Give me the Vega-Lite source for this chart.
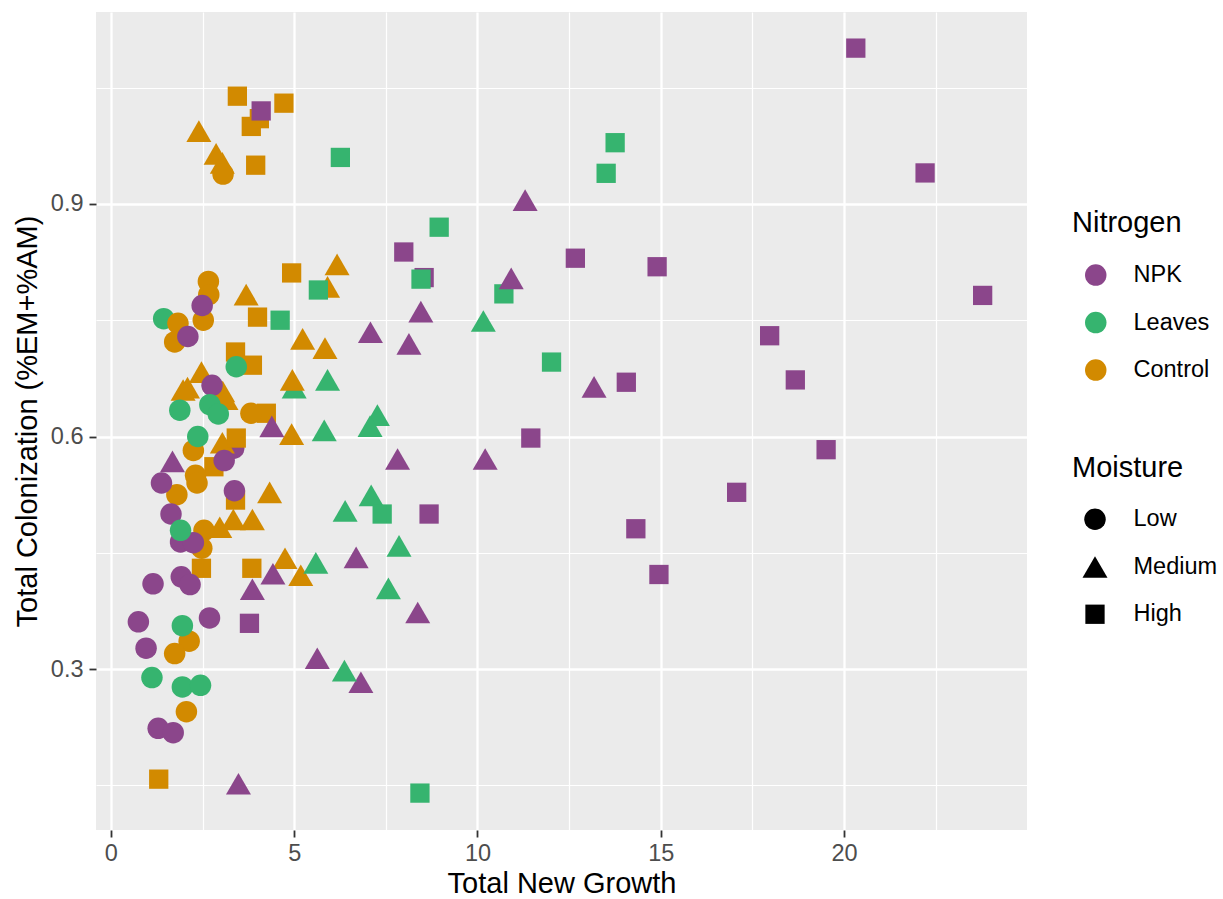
{
  "$schema": "https://vega.github.io/schema/vega-lite/v6.json",
  "width": 931,
  "height": 818,
  "autosize": "none",
  "padding": {"left": 96, "top": 12, "right": 196, "bottom": 69},
  "background": "white",
  "config": {
    "font": "Liberation Sans",
    "view": {"fill": "#EBEBEB", "stroke": null},
    "axis": {
      "domain": false,
      "gridColor": "white",
      "tickColor": "#333333",
      "tickWidth": 1.8,
      "tickSize": 7,
      "labelFontSize": 23.5,
      "labelColor": "#4D4D4D",
      "titleFontSize": 29,
      "titleFontWeight": "normal",
      "titleColor": "black"
    },
    "legend": {
      "titleFontSize": 29,
      "titleFontWeight": "normal",
      "titleColor": "black",
      "labelFontSize": 23.5,
      "labelColor": "black",
      "padding": 0,
      "symbolStrokeWidth": 0,
      "symbolBaseFillColor": "black"
    }
  },
  "data": {
    "values": [
      {"growth": 5.0, "colonization": 0.663, "Nitrogen": "Leaves", "Moisture": "Medium"},
      {"growth": 1.44, "colonization": 0.752, "Nitrogen": "Leaves", "Moisture": "Low"},
      {"growth": 3.35, "colonization": 0.585, "Nitrogen": "NPK", "Moisture": "Low"},
      {"growth": 10.72, "colonization": 0.784, "Nitrogen": "Leaves", "Moisture": "High"},

      {"growth": 2.40, "colonization": 0.994, "Nitrogen": "Control", "Moisture": "Medium"},
      {"growth": 2.87, "colonization": 0.9645, "Nitrogen": "Control", "Moisture": "Medium"},
      {"growth": 3.04, "colonization": 0.953, "Nitrogen": "Control", "Moisture": "Medium"},
      {"growth": 3.69, "colonization": 0.783, "Nitrogen": "Control", "Moisture": "Medium"},
      {"growth": 6.17, "colonization": 0.822, "Nitrogen": "Control", "Moisture": "Medium"},
      {"growth": 5.91, "colonization": 0.793, "Nitrogen": "Control", "Moisture": "Medium"},
      {"growth": 5.23, "colonization": 0.726, "Nitrogen": "Control", "Moisture": "Medium"},
      {"growth": 5.84, "colonization": 0.714, "Nitrogen": "Control", "Moisture": "Medium"},
      {"growth": 2.47, "colonization": 0.683, "Nitrogen": "Control", "Moisture": "Medium"},
      {"growth": 2.09, "colonization": 0.663, "Nitrogen": "Control", "Moisture": "Medium"},
      {"growth": 1.97, "colonization": 0.660, "Nitrogen": "Control", "Moisture": "Medium"},
      {"growth": 3.05, "colonization": 0.658, "Nitrogen": "Control", "Moisture": "Medium"},
      {"growth": 3.14, "colonization": 0.648, "Nitrogen": "Control", "Moisture": "Medium"},
      {"growth": 4.95, "colonization": 0.673, "Nitrogen": "Control", "Moisture": "Medium"},
      {"growth": 4.93, "colonization": 0.603, "Nitrogen": "Control", "Moisture": "Medium"},
      {"growth": 3.04, "colonization": 0.592, "Nitrogen": "Control", "Moisture": "Medium"},
      {"growth": 4.33, "colonization": 0.528, "Nitrogen": "Control", "Moisture": "Medium"},
      {"growth": 3.34, "colonization": 0.493, "Nitrogen": "Control", "Moisture": "Medium"},
      {"growth": 3.86, "colonization": 0.493, "Nitrogen": "Control", "Moisture": "Medium"},
      {"growth": 2.97, "colonization": 0.483, "Nitrogen": "Control", "Moisture": "Medium"},
      {"growth": 4.75, "colonization": 0.443, "Nitrogen": "Control", "Moisture": "Medium"},
      {"growth": 5.18, "colonization": 0.421, "Nitrogen": "Control", "Moisture": "Medium"},

      {"growth": 3.45, "colonization": 1.039, "Nitrogen": "Control", "Moisture": "High"},
      {"growth": 4.72, "colonization": 1.030, "Nitrogen": "Control", "Moisture": "High"},
      {"growth": 4.05, "colonization": 1.010, "Nitrogen": "Control", "Moisture": "High"},
      {"growth": 3.83, "colonization": 1.000, "Nitrogen": "Control", "Moisture": "High"},
      {"growth": 3.95, "colonization": 0.950, "Nitrogen": "Control", "Moisture": "High"},
      {"growth": 4.93, "colonization": 0.811, "Nitrogen": "Control", "Moisture": "High"},
      {"growth": 4.00, "colonization": 0.754, "Nitrogen": "Control", "Moisture": "High"},
      {"growth": 3.40, "colonization": 0.709, "Nitrogen": "Control", "Moisture": "High"},
      {"growth": 3.86, "colonization": 0.692, "Nitrogen": "Control", "Moisture": "High"},
      {"growth": 4.24, "colonization": 0.630, "Nitrogen": "Control", "Moisture": "High"},
      {"growth": 3.42, "colonization": 0.598, "Nitrogen": "Control", "Moisture": "High"},
      {"growth": 2.81, "colonization": 0.561, "Nitrogen": "Control", "Moisture": "High"},
      {"growth": 3.40, "colonization": 0.518, "Nitrogen": "Control", "Moisture": "High"},
      {"growth": 2.47, "colonization": 0.430, "Nitrogen": "Control", "Moisture": "High"},
      {"growth": 3.845, "colonization": 0.430, "Nitrogen": "Control", "Moisture": "High"},
      {"growth": 1.305, "colonization": 0.158, "Nitrogen": "Control", "Moisture": "High"},

      {"growth": 3.06, "colonization": 0.9385, "Nitrogen": "Control", "Moisture": "Low"},
      {"growth": 2.66, "colonization": 0.800, "Nitrogen": "Control", "Moisture": "Low"},
      {"growth": 2.67, "colonization": 0.783, "Nitrogen": "Control", "Moisture": "Low"},
      {"growth": 2.52, "colonization": 0.750, "Nitrogen": "Control", "Moisture": "Low"},
      {"growth": 1.83, "colonization": 0.746, "Nitrogen": "Control", "Moisture": "Low"},
      {"growth": 1.74, "colonization": 0.722, "Nitrogen": "Control", "Moisture": "Low"},
      {"growth": 3.82, "colonization": 0.630, "Nitrogen": "Control", "Moisture": "Low"},
      {"growth": 2.25, "colonization": 0.582, "Nitrogen": "Control", "Moisture": "Low"},
      {"growth": 2.31, "colonization": 0.550, "Nitrogen": "Control", "Moisture": "Low"},
      {"growth": 2.35, "colonization": 0.540, "Nitrogen": "Control", "Moisture": "Low"},
      {"growth": 1.80, "colonization": 0.525, "Nitrogen": "Control", "Moisture": "Low"},
      {"growth": 2.54, "colonization": 0.479, "Nitrogen": "Control", "Moisture": "Low"},
      {"growth": 2.48, "colonization": 0.456, "Nitrogen": "Control", "Moisture": "Low"},
      {"growth": 2.135, "colonization": 0.336, "Nitrogen": "Control", "Moisture": "Low"},
      {"growth": 1.74, "colonization": 0.320, "Nitrogen": "Control", "Moisture": "Low"},
      {"growth": 2.06, "colonization": 0.245, "Nitrogen": "Control", "Moisture": "Low"},

      {"growth": 2.49, "colonization": 0.769, "Nitrogen": "NPK", "Moisture": "Low"},
      {"growth": 2.10, "colonization": 0.729, "Nitrogen": "NPK", "Moisture": "Low"},
      {"growth": 2.76, "colonization": 0.666, "Nitrogen": "NPK", "Moisture": "Low"},
      {"growth": 3.09, "colonization": 0.569, "Nitrogen": "NPK", "Moisture": "Low"},
      {"growth": 1.38, "colonization": 0.540, "Nitrogen": "NPK", "Moisture": "Low"},
      {"growth": 3.37, "colonization": 0.530, "Nitrogen": "NPK", "Moisture": "Low"},
      {"growth": 1.64, "colonization": 0.500, "Nitrogen": "NPK", "Moisture": "Low"},
      {"growth": 1.90, "colonization": 0.464, "Nitrogen": "NPK", "Moisture": "Low"},
      {"growth": 2.25, "colonization": 0.463, "Nitrogen": "NPK", "Moisture": "Low"},
      {"growth": 1.15, "colonization": 0.410, "Nitrogen": "NPK", "Moisture": "Low"},
      {"growth": 1.92, "colonization": 0.419, "Nitrogen": "NPK", "Moisture": "Low"},
      {"growth": 2.16, "colonization": 0.409, "Nitrogen": "NPK", "Moisture": "Low"},
      {"growth": 0.75, "colonization": 0.361, "Nitrogen": "NPK", "Moisture": "Low"},
      {"growth": 2.69, "colonization": 0.366, "Nitrogen": "NPK", "Moisture": "Low"},
      {"growth": 0.96, "colonization": 0.327, "Nitrogen": "NPK", "Moisture": "Low"},
      {"growth": 1.29, "colonization": 0.2235, "Nitrogen": "NPK", "Moisture": "Low"},
      {"growth": 1.70, "colonization": 0.218, "Nitrogen": "NPK", "Moisture": "Low"},

      {"growth": 11.30, "colonization": 0.905, "Nitrogen": "NPK", "Moisture": "Medium"},
      {"growth": 10.92, "colonization": 0.804, "Nitrogen": "NPK", "Moisture": "Medium"},
      {"growth": 8.455, "colonization": 0.761, "Nitrogen": "NPK", "Moisture": "Medium"},
      {"growth": 7.08, "colonization": 0.7345, "Nitrogen": "NPK", "Moisture": "Medium"},
      {"growth": 8.13, "colonization": 0.7195, "Nitrogen": "NPK", "Moisture": "Medium"},
      {"growth": 13.18, "colonization": 0.664, "Nitrogen": "NPK", "Moisture": "Medium"},
      {"growth": 4.39, "colonization": 0.613, "Nitrogen": "NPK", "Moisture": "Medium"},
      {"growth": 1.68, "colonization": 0.568, "Nitrogen": "NPK", "Moisture": "Medium"},
      {"growth": 7.82, "colonization": 0.571, "Nitrogen": "NPK", "Moisture": "Medium"},
      {"growth": 10.21, "colonization": 0.571, "Nitrogen": "NPK", "Moisture": "Medium"},
      {"growth": 6.69, "colonization": 0.444, "Nitrogen": "NPK", "Moisture": "Medium"},
      {"growth": 4.42, "colonization": 0.423, "Nitrogen": "NPK", "Moisture": "Medium"},
      {"growth": 3.86, "colonization": 0.403, "Nitrogen": "NPK", "Moisture": "Medium"},
      {"growth": 8.37, "colonization": 0.373, "Nitrogen": "NPK", "Moisture": "Medium"},
      {"growth": 5.63, "colonization": 0.314, "Nitrogen": "NPK", "Moisture": "Medium"},
      {"growth": 6.82, "colonization": 0.283, "Nitrogen": "NPK", "Moisture": "Medium"},
      {"growth": 3.48, "colonization": 0.152, "Nitrogen": "NPK", "Moisture": "Medium"},

      {"growth": 20.32, "colonization": 1.101, "Nitrogen": "NPK", "Moisture": "High"},
      {"growth": 4.10, "colonization": 1.020, "Nitrogen": "NPK", "Moisture": "High"},
      {"growth": 22.21, "colonization": 0.940, "Nitrogen": "NPK", "Moisture": "High"},
      {"growth": 7.99, "colonization": 0.838, "Nitrogen": "NPK", "Moisture": "High"},
      {"growth": 8.545, "colonization": 0.805, "Nitrogen": "NPK", "Moisture": "High"},
      {"growth": 12.67, "colonization": 0.830, "Nitrogen": "NPK", "Moisture": "High"},
      {"growth": 14.90, "colonization": 0.819, "Nitrogen": "NPK", "Moisture": "High"},
      {"growth": 23.78, "colonization": 0.782, "Nitrogen": "NPK", "Moisture": "High"},
      {"growth": 17.97, "colonization": 0.730, "Nitrogen": "NPK", "Moisture": "High"},
      {"growth": 18.67, "colonization": 0.673, "Nitrogen": "NPK", "Moisture": "High"},
      {"growth": 14.06, "colonization": 0.670, "Nitrogen": "NPK", "Moisture": "High"},
      {"growth": 11.455, "colonization": 0.598, "Nitrogen": "NPK", "Moisture": "High"},
      {"growth": 19.51, "colonization": 0.583, "Nitrogen": "NPK", "Moisture": "High"},
      {"growth": 17.07, "colonization": 0.528, "Nitrogen": "NPK", "Moisture": "High"},
      {"growth": 8.68, "colonization": 0.500, "Nitrogen": "NPK", "Moisture": "High"},
      {"growth": 14.32, "colonization": 0.481, "Nitrogen": "NPK", "Moisture": "High"},
      {"growth": 14.95, "colonization": 0.422, "Nitrogen": "NPK", "Moisture": "High"},
      {"growth": 3.78, "colonization": 0.359, "Nitrogen": "NPK", "Moisture": "High"},

      {"growth": 3.42, "colonization": 0.690, "Nitrogen": "Leaves", "Moisture": "Low"},
      {"growth": 1.88, "colonization": 0.634, "Nitrogen": "Leaves", "Moisture": "Low"},
      {"growth": 2.70, "colonization": 0.641, "Nitrogen": "Leaves", "Moisture": "Low"},
      {"growth": 2.93, "colonization": 0.629, "Nitrogen": "Leaves", "Moisture": "Low"},
      {"growth": 2.37, "colonization": 0.600, "Nitrogen": "Leaves", "Moisture": "Low"},
      {"growth": 1.90, "colonization": 0.479, "Nitrogen": "Leaves", "Moisture": "Low"},
      {"growth": 1.95, "colonization": 0.356, "Nitrogen": "Leaves", "Moisture": "Low"},
      {"growth": 1.12, "colonization": 0.289, "Nitrogen": "Leaves", "Moisture": "Low"},
      {"growth": 1.95, "colonization": 0.277, "Nitrogen": "Leaves", "Moisture": "Low"},
      {"growth": 2.445, "colonization": 0.279, "Nitrogen": "Leaves", "Moisture": "Low"},

      {"growth": 10.16, "colonization": 0.749, "Nitrogen": "Leaves", "Moisture": "Medium"},
      {"growth": 5.91, "colonization": 0.673, "Nitrogen": "Leaves", "Moisture": "Medium"},
      {"growth": 7.27, "colonization": 0.6275, "Nitrogen": "Leaves", "Moisture": "Medium"},
      {"growth": 7.07, "colonization": 0.6133, "Nitrogen": "Leaves", "Moisture": "Medium"},
      {"growth": 5.82, "colonization": 0.608, "Nitrogen": "Leaves", "Moisture": "Medium"},
      {"growth": 7.10, "colonization": 0.524, "Nitrogen": "Leaves", "Moisture": "Medium"},
      {"growth": 6.39, "colonization": 0.504, "Nitrogen": "Leaves", "Moisture": "Medium"},
      {"growth": 7.86, "colonization": 0.459, "Nitrogen": "Leaves", "Moisture": "Medium"},
      {"growth": 5.59, "colonization": 0.437, "Nitrogen": "Leaves", "Moisture": "Medium"},
      {"growth": 7.57, "colonization": 0.404, "Nitrogen": "Leaves", "Moisture": "Medium"},
      {"growth": 6.37, "colonization": 0.298, "Nitrogen": "Leaves", "Moisture": "Medium"},

      {"growth": 13.755, "colonization": 0.979, "Nitrogen": "Leaves", "Moisture": "High"},
      {"growth": 13.51, "colonization": 0.9395, "Nitrogen": "Leaves", "Moisture": "High"},
      {"growth": 6.26, "colonization": 0.960, "Nitrogen": "Leaves", "Moisture": "High"},
      {"growth": 8.955, "colonization": 0.870, "Nitrogen": "Leaves", "Moisture": "High"},
      {"growth": 8.46, "colonization": 0.803, "Nitrogen": "Leaves", "Moisture": "High"},
      {"growth": 5.66, "colonization": 0.789, "Nitrogen": "Leaves", "Moisture": "High"},
      {"growth": 4.617, "colonization": 0.750, "Nitrogen": "Leaves", "Moisture": "High"},
      {"growth": 12.02, "colonization": 0.696, "Nitrogen": "Leaves", "Moisture": "High"},
      {"growth": 7.40, "colonization": 0.500, "Nitrogen": "Leaves", "Moisture": "High"},
      {"growth": 8.43, "colonization": 0.140, "Nitrogen": "Leaves", "Moisture": "High"}
    ]
  },
  "mark": {"type": "point", "filled": true, "opacity": 1, "strokeWidth": 0},
  "encoding": {
    "x": {
      "field": "growth",
      "type": "quantitative",
      "title": "Total New Growth",
      "scale": {"domain": [-0.406, 24.99], "nice": false, "zero": false},
      "axis": {
        "values": [0, 2.5, 5, 7.5, 10, 12.5, 15, 17.5, 20, 22.5],
        "labelExpr": "datum.value % 5 === 0 ? toString(datum.value) : ''",
        "tickOpacity": {"condition": {"test": "datum.value % 5 !== 0", "value": 0}, "value": 1},
        "gridWidth": {"condition": {"test": "datum.value % 5 !== 0", "value": 1.2}, "value": 2.3},
        "labelPadding": 4,
        "titlePadding": 5,
        "labelFlush": false
      }
    },
    "y": {
      "field": "colonization",
      "type": "quantitative",
      "title": "Total Colonization (%EM+%AM)",
      "scale": {"domain": [0.0924, 1.1476], "nice": false, "zero": false},
      "axis": {
        "values": [0.15, 0.3, 0.45, 0.6, 0.75, 0.9, 1.05],
        "labelExpr": "indexof([0.3, 0.6, 0.9], datum.value) >= 0 ? format(datum.value, '.1f') : ''",
        "tickOpacity": {"condition": {"test": "indexof([0.3, 0.6, 0.9], datum.value) < 0", "value": 0}, "value": 1},
        "gridWidth": {"condition": {"test": "indexof([0.3, 0.6, 0.9], datum.value) < 0", "value": 1.2}, "value": 2.3},
        "labelPadding": 6,
        "titlePadding": 8,
        "labelFlush": false
      }
    },
    "color": {
      "field": "Nitrogen",
      "type": "nominal",
      "scale": {"domain": ["NPK", "Leaves", "Control"], "range": ["#8B468B", "#36B46F", "#D28A00"]},
      "legend": {
        "orient": "none",
        "legendX": 976,
        "legendY": 197,
        "title": "Nitrogen",
        "titlePadding": 25.3,
        "rowPadding": 22.5,
        "symbolType": "circle",
        "symbolSize": 462,
        "symbolOffset": 12,
        "labelOffset": 26
      }
    },
    "shape": {
      "field": "Moisture",
      "type": "nominal",
      "scale": {"domain": ["Low", "Medium", "High"], "range": ["circle", "triangle-up", "square"]},
      "legend": {
        "orient": "none",
        "legendX": 976,
        "legendY": 442,
        "title": "Moisture",
        "titlePadding": 24.5,
        "rowPadding": 23,
        "symbolOffset": 10.5,
        "labelOffset": 26,
        "symbolFillColor": "black"
      }
    },
    "size": {
      "field": "Moisture",
      "type": "nominal",
      "scale": {"type": "ordinal", "domain": ["Low", "Medium", "High"], "range": [462, 625, 372]}
    }
  }
}
